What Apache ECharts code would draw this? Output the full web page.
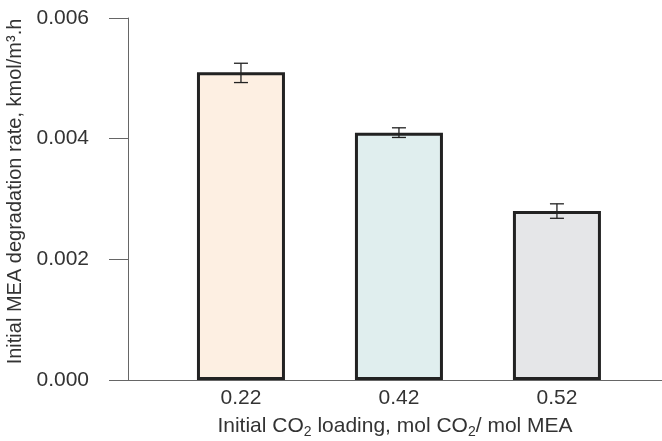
<!DOCTYPE html>
<html>
<head>
<meta charset="utf-8">
<script src="https://cdn.jsdelivr.net/npm/echarts@6/dist/echarts.min.js"></script>
<style>
  html, body { margin: 0; padding: 0; background: #fff; }
  #chart { width: 662px; height: 441px; }
</style>
</head>
<body>
<div id="chart"></div>
<script>
// data
const categories = ["0.22", "0.42", "0.52"];
const positions = [1, 2, 3];
const rates = [0.0051, 0.0041, 0.0028];
const errLow = [0.00493, 0.00402, 0.00268];
const errHigh = [0.00525, 0.00418, 0.00292];
const fills = ["#fdefe2", "#e0eeee", "#e5e6e8"];
const yTicks = [0, 0.002, 0.004, 0.006];

const chart = echarts.init(document.getElementById("chart"));

const textColor = "#333";
const axisColor = "#666";
const font = "Liberation Sans";

const option = {
  animation: false,
  grid: {
    left: 128,
    right: 0,
    top: 18,
    bottom: 61,
    outerBoundsMode: "none",
  },
  xAxis: {
    type: "value",
    min: 0.285,
    max: 3.665,
    splitLine: { show: false },
    axisLine: { show: true, lineStyle: { color: axisColor, width: 1 } },
    axisTick: { show: false },
    axisLabel: {
      customValues: positions,
      formatter: (v) => categories[positions.indexOf(v)] || "",
      color: textColor,
      fontFamily: font,
      fontSize: 21,
      margin: 8,
    },
    name: "Initial CO{sub|2} loading, mol CO{sub|2}/ mol MEA",
    nameLocation: "middle",
    nameGap: 34,
    nameTextStyle: {
      color: textColor,
      fontFamily: font,
      fontSize: 21,
      rich: {
        sub: {
          fontSize: 14,
          fontFamily: font,
          color: textColor,
          padding: [11, 0, 0, 0],
        },
      },
    },
  },
  yAxis: {
    type: "value",
    min: 0,
    max: 0.006,
    interval: 0.002,
    splitLine: { show: false },
    axisLine: { show: true, lineStyle: { color: axisColor, width: 1 } },
    axisTick: { show: true, length: 19, lineStyle: { color: axisColor } },
    axisLabel: {
      customValues: yTicks,
      formatter: (v) => v.toFixed(3),
      color: textColor,
      fontFamily: font,
      fontSize: 21,
      margin: 39,
    },
    name: "Initial MEA degradation rate, kmol/m³.h",
    nameLocation: "middle",
    nameGap: 101,
    nameTextStyle: {
      color: textColor,
      fontFamily: font,
      fontSize: 20,
      padding: [0, 0, 0, 15],
    },
  },
  series: [
    {
      type: "bar",
      barWidth: 88,
      data: positions.map((p, i) => ({
        value: [p, rates[i]],
        itemStyle: { color: fills[i] },
      })),
      itemStyle: { borderColor: "#222", borderWidth: 3 },
    },
    {
      type: "custom",
      data: positions.map((p, i) => [p, errLow[i], errHigh[i]]),
      renderItem: (params, api) => {
        const lo = api.coord([api.value(0), api.value(1)]);
        const hi = api.coord([api.value(0), api.value(2)]);
        const half = 7;
        const style = { stroke: "#222", lineWidth: 1.3 };
        return {
          type: "group",
          children: [
            { type: "line", shape: { x1: lo[0], y1: lo[1], x2: hi[0], y2: hi[1] }, style },
            { type: "line", shape: { x1: lo[0] - half, y1: lo[1], x2: lo[0] + half, y2: lo[1] }, style },
            { type: "line", shape: { x1: hi[0] - half, y1: hi[1], x2: hi[0] + half, y2: hi[1] }, style },
          ],
        };
      },
      z: 3,
    },
  ],
};

chart.setOption(option);
</script>
</body>
</html>
